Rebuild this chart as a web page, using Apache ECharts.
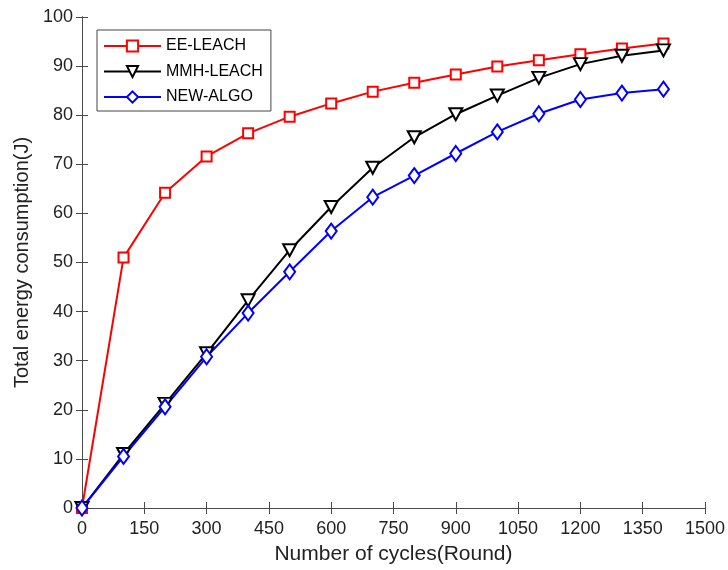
<!DOCTYPE html>
<html>
<head>
<meta charset="utf-8">
<script src="https://cdn.jsdelivr.net/npm/echarts@6/dist/echarts.min.js"></script>
<style>html,body{margin:0;padding:0;background:#fff;}#c{width:728px;height:570px;}</style>
</head>
<body>
<div id="c"></div>
<script>
var rounds = [0, 100, 200, 300, 400, 500, 600, 700, 800, 900, 1000, 1100, 1200, 1300, 1400];
var eeLeach = [0, 51.0, 64.2, 71.6, 76.3, 79.7, 82.4, 84.8, 86.6, 88.3, 89.9, 91.2, 92.4, 93.6, 94.6];
var mmhLeach = [0, 11.0, 21.2, 31.5, 42.3, 52.5, 61.3, 69.3, 75.5, 80.2, 84.0, 87.6, 90.4, 92.1, 93.2];
var newAlgo = [0, 10.5, 20.6, 30.8, 39.7, 48.1, 56.4, 63.3, 67.7, 72.2, 76.6, 80.3, 83.2, 84.5, 85.3];
var seriesNames = ['EE-LEACH', 'MMH-LEACH', 'NEW-ALGO'];

function pairs(xs, ys) { return xs.map(function (x, i) { return [x, ys[i]]; }); }
function plain(v) { return String(v); }

var FONT = '"Liberation Sans", Arial, Helvetica, sans-serif';
var AX = '#4a4a4a';

var chart = echarts.init(document.getElementById('c'), null, { renderer: 'canvas' });
var baseX = { type: 'value', min: 0, max: 1500, interval: 150 };
var baseY = { type: 'value', min: 0, max: 100, interval: 10 };

chart.setOption({
  animation: false,
  backgroundColor: '#fff',
  grid: { left: 82, right: 23, top: 17, bottom: 62, show: false },
  legend: {
    orient: 'vertical', left: 97, top: 30,
    data: seriesNames,
    itemWidth: 57, itemHeight: 14, itemGap: 9.5,
    padding: [8, 8, 6, 6],
    borderColor: '#444', borderWidth: 1, backgroundColor: '#fff',
    textStyle: { fontFamily: FONT, fontSize: 16, color: '#000' }
  },
  xAxis: [
    Object.assign({}, baseX, {
      position: 'bottom',
      name: 'Number of cycles(Round)', nameLocation: 'middle', nameGap: 36,
      nameTextStyle: { fontFamily: FONT, fontSize: 21, color: '#222' },
      axisLine: { show: true, lineStyle: { color: AX, width: 1 } },
      axisTick: { show: true, inside: true, length: 6, lineStyle: { color: AX } },
      axisLabel: { fontFamily: FONT, fontSize: 18, color: '#222', margin: 12, formatter: plain },
      splitLine: { show: false }
    }),
    Object.assign({}, baseX, {
      position: 'top',
      axisLine: { show: true, lineStyle: { color: AX, width: 1 } },
      axisTick: { show: true, inside: true, length: 6, lineStyle: { color: AX } },
      axisLabel: { show: false },
      splitLine: { show: false }
    })
  ],
  yAxis: [
    Object.assign({}, baseY, {
      position: 'left',
      name: 'Total energy consumption(J)', nameLocation: 'middle', nameGap: 48,
      nameTextStyle: { fontFamily: FONT, fontSize: 20, color: '#222' },
      axisLine: { show: true, lineStyle: { color: AX, width: 1 } },
      axisTick: { show: true, inside: true, length: 6, lineStyle: { color: AX } },
      axisLabel: { fontFamily: FONT, fontSize: 18, color: '#222', margin: 9, formatter: plain },
      splitLine: { show: false }
    }),
    Object.assign({}, baseY, {
      position: 'right',
      axisLine: { show: true, lineStyle: { color: AX, width: 1 } },
      axisTick: { show: true, inside: true, length: 6, lineStyle: { color: AX } },
      axisLabel: { show: false },
      splitLine: { show: false }
    })
  ],
  series: [
    {
      name: seriesNames[0], type: 'line', data: pairs(rounds, eeLeach),
      symbol: 'rect', symbolSize: 10, showAllSymbol: true,
      lineStyle: { color: '#ff0000', width: 2 },
      itemStyle: { color: '#fff', borderColor: '#ff0000', borderWidth: 2 }
    },
    {
      name: seriesNames[1], type: 'line', data: pairs(rounds, mmhLeach),
      symbol: 'triangle', symbolRotate: 180, symbolSize: [13, 12], showAllSymbol: true,
      lineStyle: { color: '#000', width: 2 },
      itemStyle: { color: '#fff', borderColor: '#000', borderWidth: 2 }
    },
    {
      name: seriesNames[2], type: 'line', data: pairs(rounds, newAlgo),
      symbol: 'diamond', symbolSize: [11, 15], showAllSymbol: true,
      lineStyle: { color: '#0000ff', width: 2 },
      itemStyle: { color: '#fff', borderColor: '#0000ff', borderWidth: 2 }
    }
  ]
});
</script>
</body>
</html>
